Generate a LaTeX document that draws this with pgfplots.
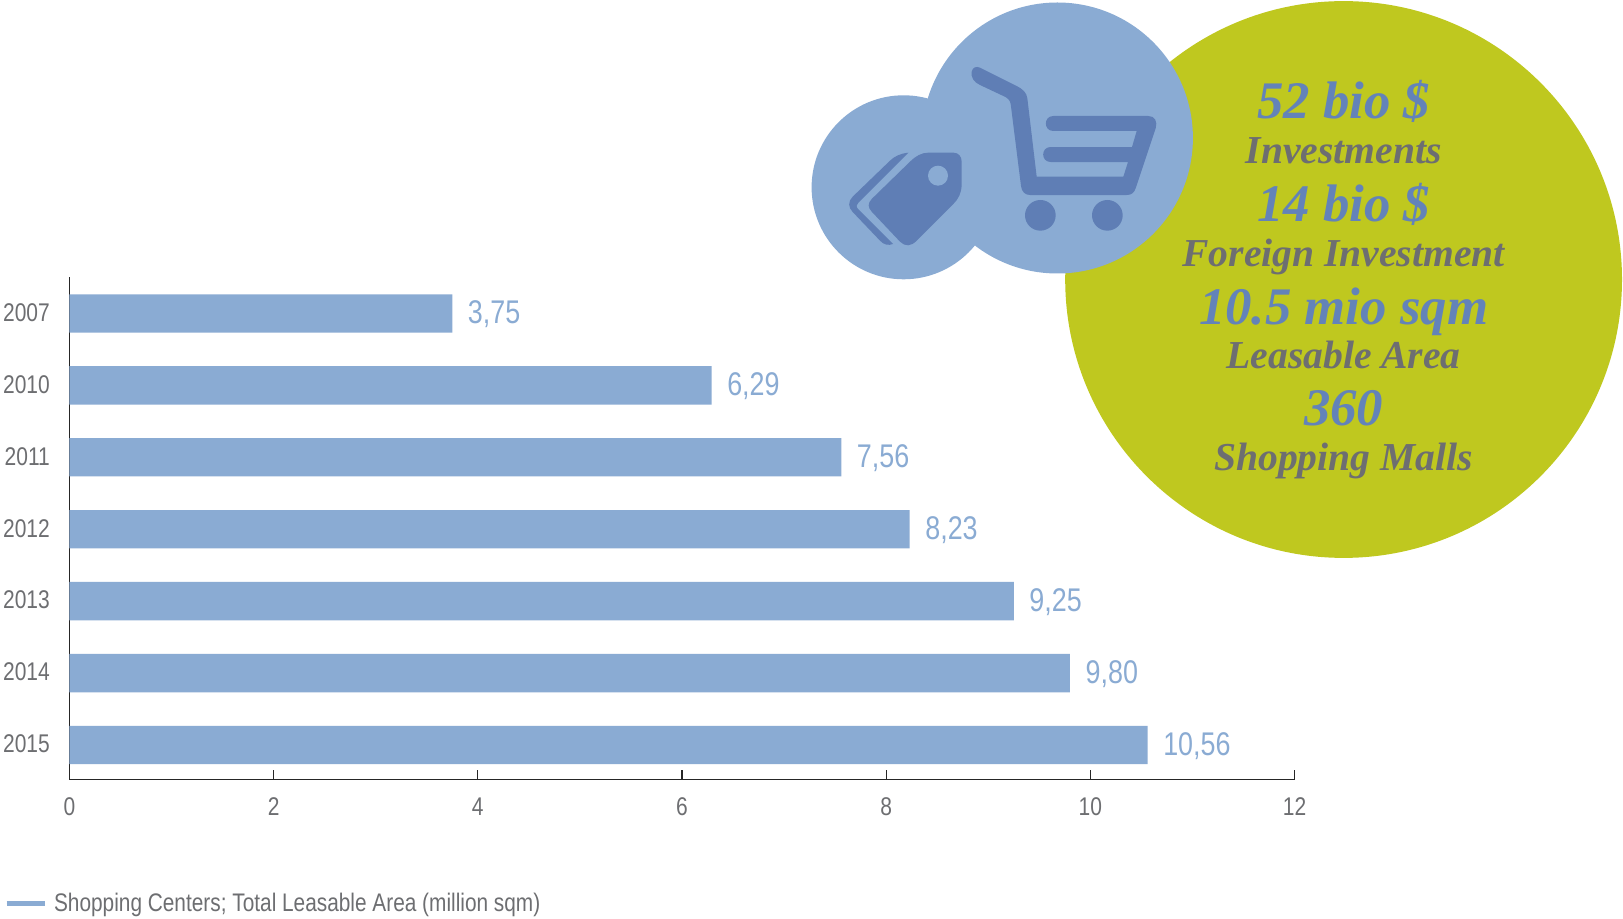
\documentclass[border=0pt]{standalone}
\usepackage{fontspec}
\setmainfont[FakeStretch=0.82]{Liberation Sans}
\newfontfamily\serifbi{Liberation Serif}
\usepackage{pgfplots}
\pgfplotsset{compat=1.18}

\definecolor{barblue}{HTML}{8AABD3}
\definecolor{iconblue}{HTML}{5F7EB5}
\definecolor{textblue}{HTML}{6383B9}
\definecolor{olive}{HTML}{BFC81F}
\definecolor{labelgray}{HTML}{6D6E71}

% one reference pixel = 0.5pt
\newcommand{\bignum}[3]{\node[anchor=base,inner sep=0pt,text=textblue,font={\fontsize{#3}{#3}\serifbi\bfseries\itshape}] at (671.8pt,#1) {#2};}
\newcommand{\smalltxt}[2]{\node[anchor=base,inner sep=0pt,text=labelgray,font={\fontsize{19.8pt}{19.8pt}\serifbi\bfseries\itshape}] at (671.8pt,#1) {#2};}

\begin{document}
\begin{tikzpicture}
\path[use as bounding box] (0,0) rectangle (811.5pt,-459.5pt);

% circles behind everything
\fill[olive] (671.8pt,-139.75pt) circle (139.2pt);
\fill[barblue] (451.8pt,-93.65pt) circle (46pt);
\fill[barblue] (528.7pt,-69pt) circle (67.75pt);

% icons, coordinates in 1/3 pixel from (800px,0)
\begin{scope}[shift={(400pt,0pt)},x=0.16667pt,y=-0.16667pt]
  % cart
  \fill[iconblue] (515,215) .. controls (518,202) and (528,198) .. (540,203)
    -- (650,258) .. controls (668,267) and (680,278) .. (682,295)
    -- (710,530) -- (970,530) -- (984,486) -- (752,486)
    .. controls (722,486) and (722,441) .. (752,441)
    -- (996,441) -- (1010,393) -- (760,393)
    .. controls (730,393) and (730,348) .. (760,348)
    -- (1045,348) .. controls (1065,348) and (1073,365) .. (1067,385)
    -- (1007,565) .. controls (1002,578) and (995,585) .. (980,585)
    -- (690,585) .. controls (675,585) and (665,575) .. (663,558)
    -- (632,312) .. controls (630,300) and (622,293) .. (610,288)
    -- (540,255) .. controls (522,247) and (512,232) .. (515,215) -- cycle;
  \fill[iconblue] (721,646) circle (7.67pt);
  \fill[iconblue] (922,646) circle (7.67pt);
  % price tag
  \fill[iconblue] (385,458) -- (460,458) .. controls (476,458) and (485,470) .. (485,485)
    -- (485,555) .. controls (484,580) and (475,597) .. (460,612)
    -- (350,722) .. controls (333,740) and (315,740) .. (300,725)
    -- (215,635) .. controls (203,622) and (203,610) .. (215,597)
    -- (330,485) .. controls (347,468) and (365,458) .. (385,458) -- cycle;
  \fill[barblue] (414,527) circle (5pt);
  \fill[iconblue] (325,458) .. controls (300,461) and (285,468) .. (270,482)
    -- (158,590) .. controls (144,604) and (144,622) .. (158,636)
    -- (240,722) .. controls (252,735) and (265,737) .. (279,732)
    -- (175,628) .. controls (168,621) and (168,614) .. (175,608) -- cycle;
\end{scope}

% text in the big circle
\bignum{-59.5pt}{52 bio \$}{26.4pt}
\smalltxt{-81.9pt}{Investments}
\bignum{-111pt}{14 bio \$}{26.4pt}
\smalltxt{-133.5pt}{Foreign Investment}
\bignum{-162.5pt}{10.5 mio sqm}{26.4pt}
\smalltxt{-184.4pt}{Leasable Area}
\bignum{-212.9pt}{360}{26.4pt}
\smalltxt{-235.5pt}{Shopping Malls}

\begin{axis}[
    at={(34.7pt,-389.75pt)},
    anchor=south west,
    scale only axis,
    width=612.6pt,
    height=251pt,
    xmin=0, xmax=12,
    ymin=-0.48, ymax=6.5,
    axis lines*=left,
    axis line style={black!85,line width=0.6pt},
    xtick={0,2,4,6,8,10,12},
    ytick={0,1,2,3,4,5,6},
    yticklabels={2015,2014,2013,2012,2011,2010,2007},
    tick align=inside,
    major tick length=5pt,
    xtick style={black!85,line width=0.6pt},
    ytick style={draw=none},
    tick label style={text=labelgray,font=\fontsize{12.8pt}{12.8pt}\selectfont},
    /pgf/number format/assume math mode=true,
    yticklabel style={inner sep=0pt,xshift=-4.6pt,yshift=0.5pt},
    xticklabel style={yshift=-5.5pt},
    xbar,
    bar width=19.2pt,
    bar shift=0pt,
    nodes near coords,
    nodes near coords style={
        text=barblue,
        xshift=4.3pt,
        yshift=-0.5pt,
        font=\fontsize{16.4pt}{16.4pt}\selectfont,
        /pgf/number format/.cd,use comma,fixed,fixed zerofill,precision=2,assume math mode=true,
    },
    legend style={
        at={(-0.0533,-0.2474)},
        anchor=west,
        draw=none,fill=none,
        inner sep=0pt,outer sep=0pt,
        text=labelgray,
        font=\fontsize{12.7pt}{12.7pt}\selectfont,
    },
    legend cell align=left,
]
\addplot[
    fill=barblue,draw=none,
    legend image code/.code={
        \draw[barblue,line width=2.5pt] (0pt,0pt) -- (19pt,0pt);
    },
] coordinates {
    (3.75,6)
    (6.29,5)
    (7.56,4)
    (8.23,3)
    (9.25,2)
    (9.80,1)
    (10.56,0)
};
\addlegendentry{\hspace*{1.5pt}Shopping Centers; Total Leasable Area (million sqm)}
\end{axis}
\end{tikzpicture}
\end{document}
